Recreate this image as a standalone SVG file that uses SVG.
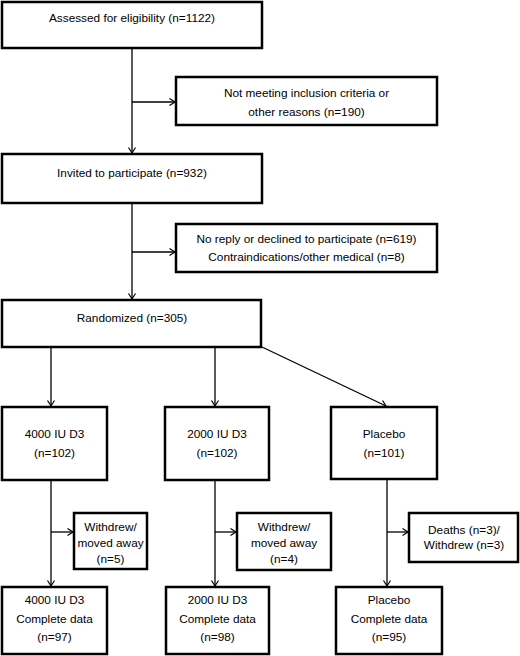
<svg xmlns="http://www.w3.org/2000/svg" width="520" height="656" viewBox="0 0 520 656">
<style>
.box{fill:#fff;stroke:#000;stroke-width:2.5}
.ln{fill:none;stroke:#000;stroke-width:1.3}
text{font-family:"Liberation Sans","DejaVu Sans",sans-serif;font-size:11.8px;fill:#000;text-anchor:middle}
</style>
<defs>
<marker id="ah" markerWidth="10" markerHeight="10" refX="6" refY="4" orient="auto" markerUnits="userSpaceOnUse">
<path d="M0.5,0.5 L6,4 L0.5,7.5" fill="none" stroke="#000" stroke-width="1.2"/>
</marker>
</defs>
<rect width="520" height="656" fill="#fff"/>
<g id="connectors">
<line class="ln" x1="132" y1="48" x2="132" y2="153" marker-end="url(#ah)"/>
<line class="ln" x1="132" y1="102" x2="175" y2="102" marker-end="url(#ah)"/>
<line class="ln" x1="132" y1="203" x2="132" y2="299" marker-end="url(#ah)"/>
<line class="ln" x1="132" y1="252" x2="175" y2="252" marker-end="url(#ah)"/>
<line class="ln" x1="51" y1="347" x2="51" y2="406" marker-end="url(#ah)"/>
<line class="ln" x1="215" y1="347" x2="215" y2="406" marker-end="url(#ah)"/>
<line class="ln" x1="262" y1="347" x2="386" y2="406" marker-end="url(#ah)"/>
<line class="ln" x1="51" y1="480" x2="51" y2="586" marker-end="url(#ah)"/>
<line class="ln" x1="215" y1="480" x2="215" y2="586" marker-end="url(#ah)"/>
<line class="ln" x1="387" y1="480" x2="387" y2="586" marker-end="url(#ah)"/>
<line class="ln" x1="51" y1="532" x2="73" y2="532" marker-end="url(#ah)"/>
<line class="ln" x1="215" y1="532" x2="236" y2="532" marker-end="url(#ah)"/>
<line class="ln" x1="387" y1="532" x2="408" y2="532" marker-end="url(#ah)"/>
</g>
<g id="assessed"><rect class="box" x="2" y="2" width="260" height="46"/><text x="132" y="22">Assessed for eligibility (n=1122)</text></g>
<g id="excluded1"><rect class="box" x="176" y="77" width="261" height="48"/><text x="306.5" y="97">Not meeting inclusion criteria or</text><text x="306.5" y="116">other reasons (n=190)</text></g>
<g id="invited"><rect class="box" x="2" y="154" width="260" height="49"/><text x="132" y="177">Invited to participate (n=932)</text></g>
<g id="excluded2"><rect class="box" x="176" y="224" width="261" height="48"/><text x="306.5" y="243">No reply or declined to participate (n=619)</text><text x="306.5" y="261">Contraindications/other medical (n=8)</text></g>
<g id="randomized"><rect class="box" x="2" y="300" width="259" height="47"/><text x="132" y="322">Randomized (n=305)</text></g>
<g id="d4000"><rect class="box" x="2" y="407" width="105" height="73"/><text x="54.5" y="438">4000 IU D3</text><text x="54.5" y="457">(n=102)</text></g>
<g id="d2000"><rect class="box" x="165" y="407" width="104" height="73"/><text x="217" y="438">2000 IU D3</text><text x="217" y="457">(n=102)</text></g>
<g id="placebo"><rect class="box" x="331" y="407" width="106" height="72"/><text x="384" y="438">Placebo</text><text x="384" y="457">(n=101)</text></g>
<g id="withdrew1"><rect class="box" x="74" y="513" width="73" height="56"/><text x="110.5" y="531">Withdrew/</text><text x="110.5" y="547">moved away</text><text x="110.5" y="563">(n=5)</text></g>
<g id="withdrew2"><rect class="box" x="237" y="513" width="94" height="57"/><text x="284" y="531">Withdrew/</text><text x="284" y="547">moved away</text><text x="284" y="563">(n=4)</text></g>
<g id="withdrew3"><rect class="box" x="409" y="513" width="109" height="49"/><text x="464" y="534">Deaths (n=3)/</text><text x="464" y="549">Withdrew (n=3)</text></g>
<g id="complete4000"><rect class="box" x="2" y="587" width="105" height="67"/><text x="54.5" y="604">4000 IU D3</text><text x="54.5" y="623">Complete data</text><text x="54.5" y="641">(n=97)</text></g>
<g id="complete2000"><rect class="box" x="166" y="587" width="103" height="67"/><text x="217.5" y="604">2000 IU D3</text><text x="217.5" y="623">Complete data</text><text x="217.5" y="641">(n=98)</text></g>
<g id="completePlacebo"><rect class="box" x="336" y="587" width="106" height="67"/><text x="389" y="604">Placebo</text><text x="389" y="623">Complete data</text><text x="389" y="641">(n=95)</text></g>
</svg>
